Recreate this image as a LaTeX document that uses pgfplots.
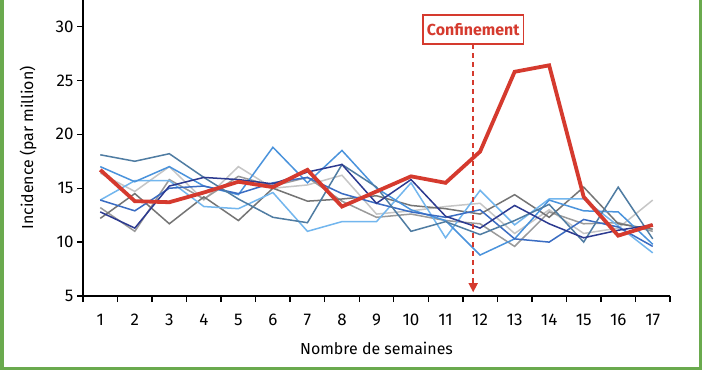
\documentclass[border=0pt]{standalone}
\usepackage{fontspec}
\setmainfont{Fira Sans}
\usepackage{pgfplots}
\usepackage{pgfplotstable}
\pgfplotsset{compat=1.18}
\usetikzlibrary{arrows.meta}
\definecolor{framegreen}{HTML}{6AAA4E}
\definecolor{cred}{HTML}{D53A2E}
\definecolor{csteel}{HTML}{4F7CA2}
\definecolor{cmidlight}{HTML}{4A93DC}
\definecolor{clight}{HTML}{72B6EE}
\definecolor{cmed}{HTML}{3A6CC2}
\definecolor{cnavy}{HTML}{2C3A90}
\definecolor{cdgray}{HTML}{747474}
\definecolor{clgray}{HTML}{C6C6C6}
\definecolor{cmgray}{HTML}{9A9A9A}

\pgfplotstableread{
w  s1   s2   s3   s4   s5   s6   s7   s8   red
1  18.1 17.0 13.9 13.9 12.8 12.2 16.4 13.2 16.7
2  17.5 15.6 15.7 12.9 11.3 14.5 14.7 11.0 13.8
3  18.2 17.0 15.7 15.0 15.2 11.7 17.0 15.8 13.7
4  16.0 15.2 13.3 15.2 16.0 14.2 13.9 14.0 14.6
5  14.0 14.4 13.1 14.5 15.8 12.0 17.0 16.1 15.6
6  12.3 18.8 14.6 15.5 15.4 15.0 15.0 15.2 15.1
7  11.8 15.5 11.0 16.0 16.5 13.8 15.3 16.0 16.7
8  17.2 18.5 11.9 14.5 17.2 14.0 16.2 13.8 13.3
9  15.1 15.0 11.9 13.6 13.6 14.3 12.6 12.3 14.7
10 11.0 13.0 15.5 12.8 15.8 13.4 12.9 12.6 16.1
11 11.9 12.0 10.4 12.3 12.4 13.1 13.3 12.0 15.5
12 10.7 8.8  14.8 13.0 11.3 12.6 13.6 11.7 18.4
13 12.0 10.3 11.6 10.3 13.4 14.4 10.8 9.6  25.8
14 13.5 13.9 14.0 10.0 11.7 12.3 13.0 12.8 26.4
15 10.0 12.9 14.0 12.1 10.4 15.1 10.8 11.7 14.2
16 15.1 12.8 11.5 11.4 11.1 11.7 11.3 11.8 10.6
17 10.3 9.8  9.0  9.6  11.6 11.2 13.9 11.0 11.6
}\datatable

\begin{document}
\begin{tikzpicture}[x=1bp,y=1bp]
\useasboundingbox (0,0) rectangle (702,370);
\fill[white] (0,0) rectangle (702,370);
\draw[framegreen, line width=3.5bp] (1.75,370) -- (1.75,1.75) -- (700.25,1.75) -- (700.25,370);
\begin{axis}[
  at={(83bp,74bp)}, anchor=south west,
  scale only axis, width=587bp, height=296bp,
  xmin=0.5, xmax=17.5, ymin=5, ymax=32.46,
  axis lines=left, axis line style={-, line width=1.4bp, black},
  clip=false,
  xtick={1,...,17}, minor xtick={0.5,1.5,...,17.5},
  ytick={5,10,...,30},
  major x tick style={draw=none},
  minor x tick style={line width=1.4bp, black},
  major y tick style={line width=1.4bp, black},
  tick align=outside,
  major tick length=6bp, minor tick length=6bp,
  font=\fontsize{16}{19}\selectfont,
  tick label style={font=\fontsize{17}{20}\selectfont},
  /pgf/number format/assume math mode=true,
  xticklabel style={anchor=center, yshift=-18bp},
  yticklabel style={anchor=east},
  xlabel={Nombre de semaines},
  ylabel={Incidence (par million)},
  xlabel style={at={(axis description cs:0.5,-0.176)}, anchor=center},
  ylabel style={at={(axis description cs:-0.0937,0.5)}, anchor=center},
  every axis plot/.append style={line width=1.5bp, mark=none, line join=miter},
]
\addplot[clgray] table[x=w,y=s7] {\datatable};
\addplot[cmgray] table[x=w,y=s8] {\datatable};
\addplot[cdgray] table[x=w,y=s6] {\datatable};
\addplot[clight] table[x=w,y=s3] {\datatable};
\addplot[cmidlight] table[x=w,y=s2] {\datatable};
\addplot[cmed] table[x=w,y=s4] {\datatable};
\addplot[csteel] table[x=w,y=s1] {\datatable};
\addplot[cnavy] table[x=w,y=s5] {\datatable};
\addplot[cred, line width=3.8bp] table[x=w,y=red] {\datatable};
\draw[cred, line width=1.5bp, dash pattern=on 5bp off 4bp, -{Triangle[length=9bp,width=9bp]}] (axis cs:11.8,28.35) -- (axis cs:11.8,5.35);
\node[draw=cred, line width=1.5bp, text=cred, font=\fontsize{16}{19}\selectfont\bfseries, fill=white, minimum height=29bp, inner xsep=4bp] at (axis cs:11.8,29.7) {Confinement};
\end{axis}
\end{tikzpicture}
\end{document}
